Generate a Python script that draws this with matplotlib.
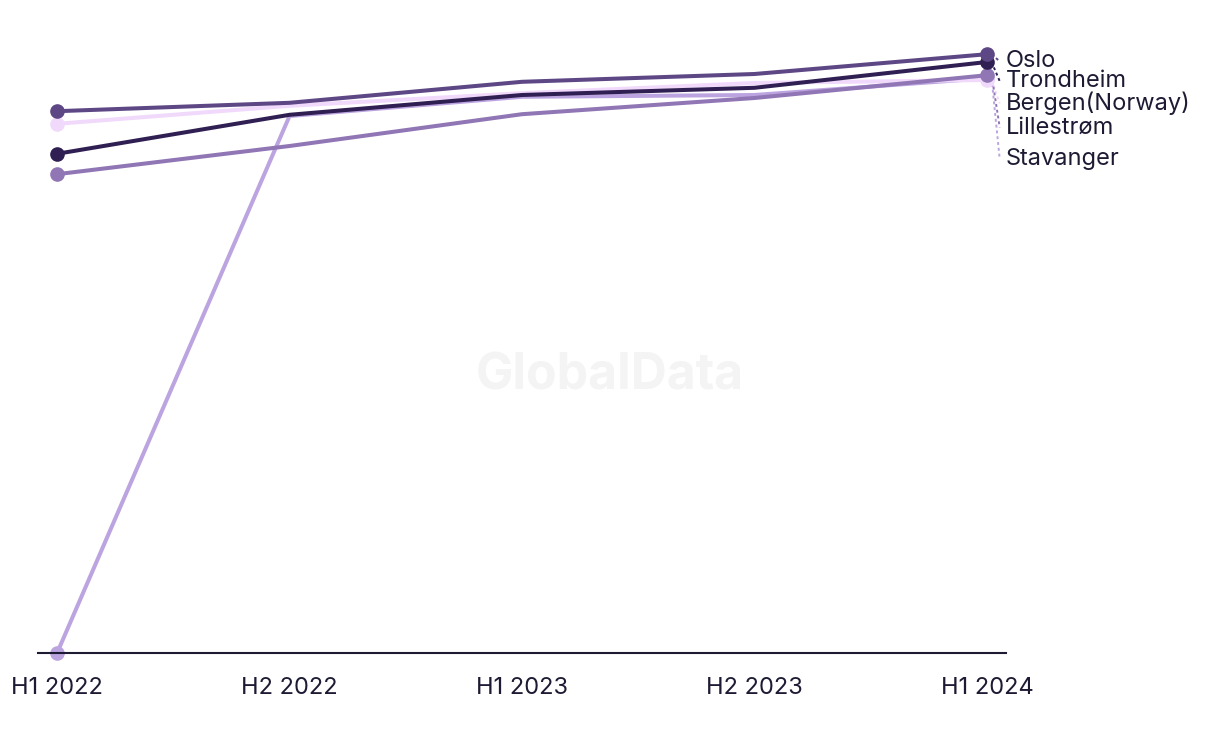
import matplotlib
matplotlib.use("Agg")
import matplotlib.pyplot as plt

periods = ["H1 2022", "H2 2022", "H1 2023", "H2 2023", "H1 2024"]
cities = ["Oslo", "Trondheim", "Bergen(Norway)", "Lillestrøm", "Stavanger"]
oslo = [90.3, 91.7, 95.2, 96.5, 99.8]
trondheim = [83.2, 89.7, 93.0, 94.2, 98.5]
bergen = [88.2, 91.2, 93.3, 95.0, 95.5]
lillestrom = [79.8, 84.5, 89.8, 92.5, 96.3]
stavanger = [0.0, 89.5, 92.7, 93.0, 95.8]

series = [oslo, trondheim, bergen, lillestrom, stavanger]
colors = ["#5e4785", "#2f1f52", "#f1d9fb", "#9076b4", "#bca4e0"]
zorders = [6, 5, 3, 4, 2]
# label y positions (data units) for the right-hand labels
label_y = [98.6, 95.3, 91.6, 87.6, 82.3]

plt.rcParams["font.family"] = ["Inter", "DejaVu Sans"]
text_color = "#1c1b33"

fig = plt.figure(figsize=(12.2, 7.44), dpi=100)
ax = fig.add_axes([38 / 1220, 91 / 744, 968 / 1220, 633 / 744])

x = list(range(len(periods)))
for vals, c, z in zip(series, colors, zorders):
    ax.plot(x, vals, color=c, lw=2.9, zorder=z, solid_capstyle="round")
    ax.plot([x[0], x[-1]], [vals[0], vals[-1]], "o", color=c, ms=9.5, zorder=z + 0.5, clip_on=False)

for name, vals, c, ly in zip(cities, series, colors, label_y):
    ax.plot([x[-1] + 0.02, x[-1] + 0.055], [vals[-1], ly], ls=(0, (1.5, 1.5)), color=c, lw=1.4, clip_on=False)
    ax.text(x[-1] + 0.08, ly, name, color=text_color, fontsize=17, va="center", ha="left")

fig.text(0.5, 0.495, "GlobalData", ha="center", va="center",
         fontsize=36, fontweight="bold", color="#f4f4f4", zorder=0)

ax.set_xlim(-0.082, 4.082)
ax.set_ylim(0, 105.5)
ax.set_xticks(x)
ax.set_xticklabels(periods, fontsize=17, color=text_color)
ax.tick_params(axis="x", length=0, pad=17)
ax.set_yticks([])
for s in ["top", "right", "left"]:
    ax.spines[s].set_visible(False)
ax.spines["bottom"].set_color(text_color)
ax.spines["bottom"].set_linewidth(1.5)

fig.savefig("out.png", dpi=100)
